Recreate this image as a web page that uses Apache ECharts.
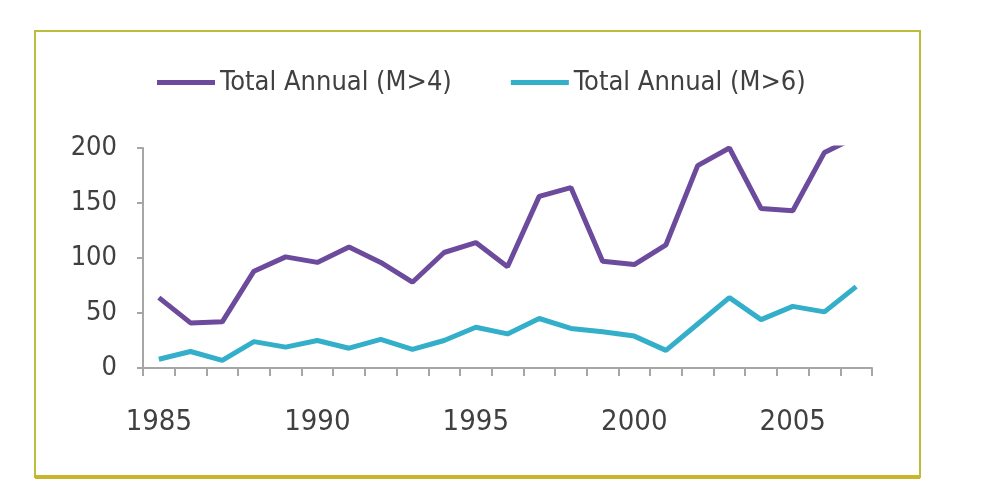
<!DOCTYPE html>
<html>
<head>
<meta charset="utf-8">
<script src="https://cdn.jsdelivr.net/npm/echarts@6/dist/echarts.min.js"></script>
<style>
html,body{margin:0;padding:0;background:#fff;}
#c{width:991px;height:495px;}
</style>
</head>
<body>
<div id="c"></div>
<script>
const years = ['1985','1986','1987','1988','1989','1990','1991','1992','1993','1994','1995','1996','1997','1998','1999','2000','2001','2002','2003','2004','2005','2006','2007'];
const totalM4 = [64,41,42,88,101,96,110,96,78,105,114,92,156,164,97,94,112,184,200,145,143,196,210];
const totalM6 = [8,15,7,24,19,25,18,26,17,25,37,31,45,36,33,29,16,40,64,44,56,51,74];
const yTicks = [0,50,100,150,200];

const FONT = "'Liberation Sans Narrow','DejaVu Sans Condensed','Liberation Sans',sans-serif";
const chart = echarts.init(document.getElementById('c'), null, {renderer:'canvas'});
chart.setOption({
  animation:false,
  backgroundColor:'#ffffff',
  graphic:[
    {type:'rect',shape:{x:35,y:31,width:885,height:446},style:{fill:'none',stroke:'#bdbd3c',lineWidth:2},z:-1},
    {type:'line',shape:{x1:35,y1:477,x2:920,y2:477},style:{stroke:'#c9b52a',lineWidth:4}}
  ],
  legend:{
    top:64,
    left:152,
    itemWidth:58,
    itemHeight:5,
    itemGap:59,
    icon:'rect',
    textStyle:{fontFamily:FONT,fontSize:27,color:'#404040'},
    data:['Total Annual (M>4)','Total Annual (M>6)']
  },
  grid:{left:143,right:119,top:148,bottom:127,containLabel:false},
  xAxis:{
    type:'category',
    data:years,
    boundaryGap:true,
    axisLine:{lineStyle:{color:'#a6a6a6',width:2}},
    axisTick:{show:true,interval:0,length:8,lineStyle:{color:'#a6a6a6',width:2}},
    axisLabel:{interval:4,margin:40,fontFamily:FONT,fontSize:29,color:'#404040'},
    splitLine:{show:false}
  },
  yAxis:{
    type:'value',
    min:yTicks[0],
    max:yTicks[yTicks.length-1],
    interval:50,
    axisLine:{show:true,lineStyle:{color:'#a6a6a6',width:2}},
    axisTick:{show:true,length:6,lineStyle:{color:'#a6a6a6',width:2}},
    axisLabel:{margin:26,fontFamily:FONT,fontSize:27,color:'#404040'},
    splitLine:{show:false}
  },
  series:[
    {name:'Total Annual (M>4)',type:'line',data:totalM4,showSymbol:false,symbol:'none',clip:true,
      lineStyle:{color:'#6c4a9c',width:5},itemStyle:{color:'#6c4a9c'}},
    {name:'Total Annual (M>6)',type:'line',data:totalM6,showSymbol:false,symbol:'none',clip:true,
      lineStyle:{color:'#33afc9',width:5},itemStyle:{color:'#33afc9'}}
  ]
});
</script>
</body>
</html>
